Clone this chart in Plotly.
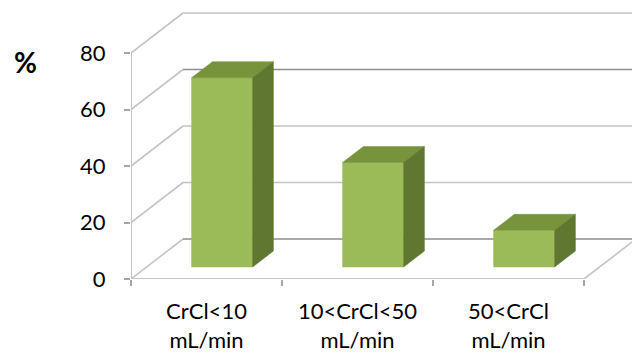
import plotly.graph_objects as go

# Data
categories = ["CrCl<10<br>mL/min", "10<CrCl<50<br>mL/min", "50<CrCl<br>mL/min"]
values = [67, 37, 13]
y_ticks = [0, 20, 40, 60, 80]

# Oblique 3D projection helpers (depth d in [0, 1])
DX = 52 / 151      # horizontal shift of the back wall, in category units
DY = 40 / 2.825    # vertical shift of the back wall, in value units


def proj(x, v, d):
    return x + d * DX, v + d * DY


FRONT = "#9BBB59"
TOP = "#77933C"
SIDE = "#60772F"
GRID_LIGHT = "#C4C4C4"
GRID_DARK = "#8E8E8E"
FONT = "Lato"

fig = go.Figure()


def add_line(pts, color, width=1.6):
    xs = [p[0] for p in pts]
    ys = [p[1] for p in pts]
    fig.add_trace(go.Scatter(x=xs, y=ys, mode="lines",
                             line=dict(color=color, width=width),
                             hoverinfo="skip", showlegend=False))


def add_poly(pts, color):
    xs = [p[0] for p in pts] + [pts[0][0]]
    ys = [p[1] for p in pts] + [pts[0][1]]
    fig.add_trace(go.Scatter(x=xs, y=ys, mode="lines", fill="toself",
                             fillcolor=color, line=dict(color=color, width=0.5),
                             hoverinfo="skip", showlegend=False))


n = len(categories)
x_far = n + 2

# Side wall diagonals and back wall gridlines
for v in y_ticks:
    add_line([proj(0, v, 0), proj(0, v, 1)], GRID_LIGHT)
    back_col = GRID_DARK if v in (0, 60) else GRID_LIGHT
    add_line([proj(0, v, 1), proj(x_far, v, 1)], back_col)

# Floor front edge and right edge
add_line([proj(0, 0, 0), proj(n, 0, 0)], GRID_LIGHT, 2)
add_line([proj(n, 0, 0), proj(n, 0, 1)], GRID_LIGHT)
# Value axis line
add_line([proj(0, 0, 0), proj(0, y_ticks[-1], 0)], GRID_LIGHT, 2)

# 3D columns
half_w = 0.202
d0, d1 = 0.3, 0.7
for i, h in enumerate(values):
    c = i + 0.5
    l, r = c - half_w, c + half_w
    add_poly([proj(l, 0, d0), proj(r, 0, d0), proj(r, h, d0), proj(l, h, d0)], FRONT)
    add_poly([proj(l, h, d0), proj(r, h, d0), proj(r, h, d1), proj(l, h, d1)], TOP)
    add_poly([proj(r, 0, d0), proj(r, 0, d1), proj(r, h, d1), proj(r, h, d0)], SIDE)

W, H = 632, 356
ML, MB = 131, 77
x_range = [0, (W - ML) / 151]
y_range = [0, (H - MB) / 2.825]

fig.update_layout(
    width=W, height=H,
    margin=dict(l=ML, r=0, t=0, b=MB),
    paper_bgcolor="white", plot_bgcolor="white",
    showlegend=False,
    xaxis=dict(
        range=x_range, showgrid=False, zeroline=False, showline=False,
        automargin=False,
        tickmode="array", tickvals=[i + 0.5 for i in range(n)], ticktext=categories,
        ticks="", tickfont=dict(family=FONT, size=22, color="#000000"),
        ticklabelstandoff=17,
        minor=dict(tickmode="array", tickvals=list(range(n + 1)), ticks="outside",
                   ticklen=6, tickwidth=1.5, tickcolor="#A6A6A6", showgrid=False),
        fixedrange=True,
    ),
    yaxis=dict(
        range=y_range, showgrid=False, zeroline=False, showline=False,
        automargin=False,
        tickmode="array", tickvals=y_ticks, ticks="outside", ticklen=6,
        tickwidth=1.5, tickcolor="#A6A6A6",
        tickfont=dict(family=FONT, size=22, color="#000000"),
        ticklabelstandoff=14,
        fixedrange=True,
    ),
    annotations=[dict(
        text="<b>%</b>", xref="paper", yref="paper",
        x=(25.5 - ML) / (W - ML), y=(H - MB - 62.5) / (H - MB),
        xanchor="center", yanchor="middle", showarrow=False,
        font=dict(family=FONT, size=28, color="#000000"),
    )],
)

fig.write_html("out.html")
